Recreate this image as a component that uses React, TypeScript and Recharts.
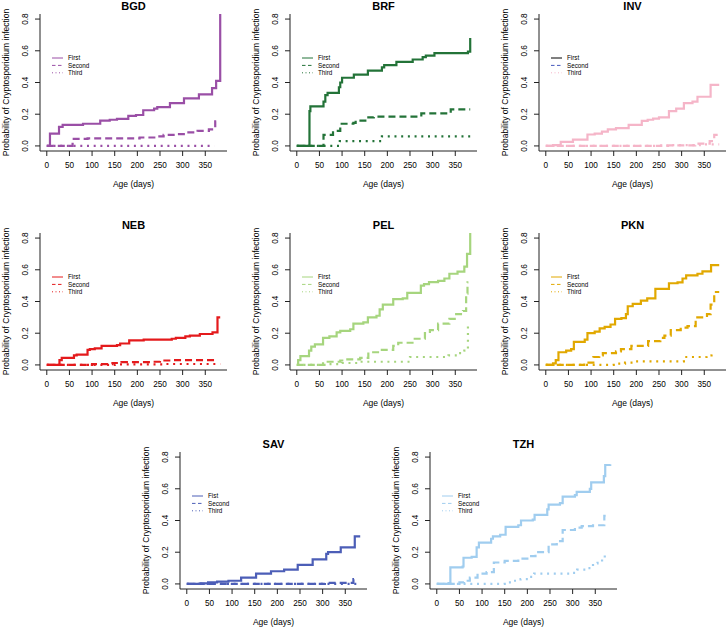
import { Line, LineChart, XAxis, YAxis } from 'recharts'

type Pt = [number, number]

const AGE_TICKS = [0, 50, 100, 150, 200, 250, 300, 350]
const PROB_TICKS = [0, 0.2, 0.4, 0.6, 0.8]
const PROB_LABELS = ['0.0', '0.2', '0.4', '0.6', '0.8']
const LEGEND_LABELS = ['First', 'Second', 'Third']

// step values: [age in days, cumulative probability]
const bgdFirst: Pt[] = [[0, 0], [7, 0.078], [27, 0.12], [35, 0.133], [80, 0.14], [118, 0.16], [139, 0.165], [155, 0.17], [180, 0.19], [197, 0.195], [213, 0.225], [237, 0.235], [244, 0.245], [272, 0.27], [303, 0.3], [336, 0.325], [365, 0.365], [374, 0.41], [383, 0.9]]
const bgdSecond: Pt[] = [[0, 0], [57, 0.045], [90, 0.048], [205, 0.053], [240, 0.06], [258, 0.07], [284, 0.075], [307, 0.085], [333, 0.095], [358, 0.105], [368, 0.115], [372, 0.155], [383, 0.155]]
const bgdThird: Pt[] = [[0, 0], [370, 0]]

const brfFirst: Pt[] = [[0, 0], [28, 0.22], [30, 0.25], [59, 0.28], [63, 0.32], [68, 0.335], [93, 0.37], [96, 0.4], [100, 0.43], [126, 0.45], [157, 0.475], [188, 0.495], [193, 0.51], [220, 0.53], [256, 0.545], [278, 0.56], [285, 0.57], [304, 0.585], [378, 0.595], [383, 0.68]]
const brfSecond: Pt[] = [[0, 0], [59, 0.07], [80, 0.095], [96, 0.14], [125, 0.145], [130, 0.16], [155, 0.18], [170, 0.185], [275, 0.205], [340, 0.23], [383, 0.23]]
const brfThird: Pt[] = [[0, 0], [95, 0.03], [188, 0.06], [383, 0.06]]

const invFirst: Pt[] = [[0, 0], [16, 0.005], [33, 0.025], [60, 0.04], [92, 0.072], [108, 0.078], [124, 0.09], [137, 0.105], [155, 0.112], [183, 0.133], [212, 0.158], [225, 0.165], [237, 0.172], [250, 0.18], [272, 0.22], [288, 0.235], [305, 0.27], [324, 0.28], [335, 0.31], [364, 0.385], [383, 0.385]]
const invSecond: Pt[] = [[0, 0], [255, 0.003], [330, 0.015], [362, 0.03], [372, 0.07], [383, 0.07]]
const invThird: Pt[] = [[0, 0], [270, 0.005], [340, 0.01], [383, 0.01]]

const nebFirst: Pt[] = [[0, 0], [28, 0.03], [33, 0.045], [60, 0.06], [66, 0.065], [90, 0.095], [95, 0.1], [106, 0.105], [121, 0.12], [155, 0.125], [162, 0.135], [182, 0.155], [214, 0.16], [276, 0.165], [285, 0.17], [306, 0.18], [316, 0.185], [338, 0.195], [366, 0.205], [377, 0.3], [383, 0.3]]
const nebSecond: Pt[] = [[0, 0], [100, 0.005], [145, 0.012], [165, 0.018], [230, 0.02], [250, 0.028], [275, 0.03], [375, 0.03]]
const nebThird: Pt[] = [[0, 0], [150, 0.003], [260, 0.006], [383, 0.006]]

const pelFirst: Pt[] = [[0, 0], [3, 0.03], [8, 0.055], [27, 0.09], [32, 0.115], [40, 0.13], [58, 0.17], [72, 0.18], [88, 0.205], [96, 0.215], [118, 0.225], [125, 0.26], [147, 0.268], [157, 0.3], [176, 0.31], [183, 0.35], [190, 0.38], [213, 0.415], [234, 0.42], [244, 0.455], [274, 0.5], [281, 0.51], [292, 0.522], [312, 0.53], [326, 0.545], [337, 0.575], [355, 0.588], [370, 0.62], [376, 0.7], [383, 0.9]]
const pelSecond: Pt[] = [[0, 0], [58, 0.02], [96, 0.028], [104, 0.035], [140, 0.045], [158, 0.08], [184, 0.095], [213, 0.12], [224, 0.14], [258, 0.165], [283, 0.2], [294, 0.22], [312, 0.26], [337, 0.29], [352, 0.32], [367, 0.34], [374, 0.45], [377, 0.52], [379, 0.52]]
const pelThird: Pt[] = [[0, 0], [70, 0.005], [100, 0.012], [140, 0.02], [250, 0.05], [335, 0.06], [355, 0.075], [370, 0.09], [376, 0.1], [378, 0.26], [379, 0.26]]

const pknFirst: Pt[] = [[0, 0], [16, 0.01], [22, 0.03], [28, 0.08], [45, 0.09], [56, 0.1], [62, 0.145], [86, 0.16], [92, 0.2], [108, 0.21], [119, 0.23], [130, 0.24], [143, 0.255], [153, 0.29], [167, 0.295], [177, 0.32], [181, 0.37], [192, 0.385], [210, 0.405], [224, 0.42], [242, 0.48], [272, 0.515], [291, 0.52], [302, 0.545], [310, 0.565], [335, 0.575], [346, 0.59], [365, 0.63], [383, 0.63]]
const pknSecond: Pt[] = [[0, 0], [85, 0.015], [105, 0.05], [118, 0.06], [126, 0.075], [155, 0.085], [166, 0.1], [189, 0.12], [226, 0.15], [253, 0.17], [262, 0.185], [276, 0.22], [298, 0.235], [313, 0.245], [331, 0.3], [356, 0.32], [364, 0.38], [372, 0.46], [383, 0.46]]
const pknThird: Pt[] = [[0, 0], [150, 0.008], [175, 0.015], [195, 0.022], [305, 0.05], [355, 0.06], [366, 0.075], [372, 0.075]]

const savFirst: Pt[] = [[0, 0], [30, 0.004], [47, 0.01], [67, 0.015], [92, 0.02], [120, 0.04], [153, 0.065], [186, 0.08], [215, 0.09], [245, 0.12], [278, 0.155], [308, 0.19], [312, 0.2], [340, 0.23], [371, 0.3], [383, 0.3]]
const savSecond: Pt[] = [[0, 0], [305, 0.007], [368, 0.03], [372, 0.03]]
const savThird: Pt[] = [[0, 0], [383, 0.003]]

const tzhFirst: Pt[] = [[0, 0], [26, 0.005], [30, 0.105], [57, 0.11], [59, 0.165], [77, 0.17], [88, 0.23], [93, 0.26], [120, 0.285], [124, 0.3], [140, 0.31], [152, 0.36], [180, 0.37], [186, 0.4], [212, 0.405], [216, 0.435], [244, 0.47], [247, 0.5], [272, 0.51], [278, 0.55], [305, 0.56], [309, 0.58], [338, 0.6], [341, 0.64], [369, 0.68], [372, 0.75], [383, 0.755]]
const tzhSecond: Pt[] = [[0, 0], [50, 0.01], [60, 0.02], [73, 0.04], [90, 0.065], [110, 0.075], [126, 0.135], [150, 0.145], [180, 0.16], [200, 0.175], [218, 0.2], [247, 0.25], [265, 0.27], [278, 0.34], [305, 0.355], [320, 0.365], [345, 0.37], [370, 0.43], [373, 0.43]]
const tzhThird: Pt[] = [[0, 0], [150, 0.01], [170, 0.02], [185, 0.03], [205, 0.045], [215, 0.065], [300, 0.07], [310, 0.09], [330, 0.1], [345, 0.13], [355, 0.14], [365, 0.16], [371, 0.185], [373, 0.185]]

const FONT = '"Liberation Sans", Arial, Helvetica, sans-serif'
const DASHES = [undefined, '7 4', '2 4.7']
const LEGEND_DASHES = [undefined, '3.5 2.5', '1 2.5']

interface PanelDef {
  name: string
  color: string
  left: number
  top: number
  series: Pt[][]
  legendColors?: string[]
  labels?: string[]
}

const panels: PanelDef[] = [
  { name: 'BGD', color: '#9A4FA6', left: 0, top: 0, series: [bgdFirst, bgdSecond, bgdThird] },
  { name: 'BRF', color: '#237338', left: 250, top: 0, series: [brfFirst, brfSecond, brfThird] },
  { name: 'INV', color: '#F5B5C8', left: 499, top: 0, series: [invFirst, invSecond, invThird], legendColors: ['#000000', '#4659BC', '#F5B5C8'] },
  { name: 'NEB', color: '#E41A1C', left: 0, top: 219, series: [nebFirst, nebSecond, nebThird] },
  { name: 'PEL', color: '#A6D57E', left: 250, top: 219, series: [pelFirst, pelSecond, pelThird] },
  { name: 'PKN', color: '#E1A800', left: 499, top: 219, series: [pknFirst, pknSecond, pknThird] },
  { name: 'SAV', color: '#4C5EB7', left: 140, top: 438, series: [savFirst, savSecond, savThird], labels: ['Fist', 'Second', 'Third'] },
  { name: 'TZH', color: '#A0CDEF', left: 390, top: 438, series: [tzhFirst, tzhSecond, tzhThird] },
]

const toRows = (pts: Pt[]) => pts.map(([d, v]) => ({ d, v }))

function YTick({ x, y, payload }: { x?: number; y?: number; payload?: { value: number } }) {
  const idx = PROB_TICKS.findIndex((t) => Math.abs(t - Number(payload?.value)) < 1e-6)
  return <text x={x} y={y} transform={`rotate(-90 ${x} ${y})`} textAnchor="middle" fontSize={8.2} fill="#000" fontFamily={FONT}>{PROB_LABELS[idx] ?? ''}</text>
}

function Panel({ p }: { p: PanelDef }) {
  const lc = p.legendColors ?? [p.color, p.color, p.color]
  const labels = p.labels ?? LEGEND_LABELS
  return <div style={{ position: 'absolute', left: p.left, top: p.top, width: 250, height: 205 }}>
    <LineChart width={250} height={205} margin={{ top: 14, right: 23, bottom: 24, left: 12 }}>
      <XAxis xAxisId="b" dataKey="d" type="number" domain={[-15, 398]} ticks={AGE_TICKS} interval={0} allowDataOverflow height={30} tickSize={5} tickMargin={6} tick={{ fontSize: 8.2, fill: '#000', fontFamily: FONT }} stroke="#222" />
      <XAxis xAxisId="t" orientation="top" dataKey="d" type="number" domain={[-15, 398]} allowDataOverflow height={0} tick={false} tickLine={false} stroke="#222" />
      <YAxis yAxisId="l" type="number" domain={[-0.032, 0.832]} ticks={PROB_TICKS} interval={0} allowDataOverflow width={28} tickSize={5} tickMargin={7} tick={<YTick />} stroke="#222" />
      <YAxis yAxisId="r" orientation="right" type="number" domain={[-0.032, 0.832]} allowDataOverflow width={0} tick={false} tickLine={false} stroke="#222" />
      {p.series.map((s, i) => <Line key={i} xAxisId="b" yAxisId="l" data={toRows(s)} dataKey="v" type="stepAfter" stroke={p.color} strokeWidth={2.2} strokeDasharray={DASHES[i]} dot={false} activeDot={false} isAnimationActive={false} />)}
    </LineChart>
    <svg width={250} height={205} style={{ position: 'absolute', left: 0, top: 0, pointerEvents: 'none' }} fontFamily={FONT}>
      <text x={133.5} y={9.5} textAnchor="middle" fontSize={11} fontWeight="bold" fill="#000">{p.name}</text>
      <text x={9} y={82.5} transform="rotate(-90 9 82.5)" textAnchor="middle" fontSize={8.5} fill="#000">Probability of Cryptosporidium infection</text>
      <text x={133.5} y={186.5} textAnchor="middle" fontSize={8.5} fill="#000">Age (days)</text>
      {labels.map((l, i) => <g key={l}>
        <line x1={52} x2={63} y1={58 + i * 7.4} y2={58 + i * 7.4} stroke={lc[i]} strokeWidth={1} strokeDasharray={LEGEND_DASHES[i]} />
        <text x={68} y={60.2 + i * 7.4} fontSize={6.3} fill="#000">{l}</text>
      </g>)}
    </svg>
  </div>
}

export default function App() {
  return <div style={{ position: 'absolute', left: 0, top: 0, width: 727, height: 629, overflow: 'hidden', background: '#fff' }}>
    {panels.map((p) => <Panel key={p.name} p={p} />)}
  </div>
}
